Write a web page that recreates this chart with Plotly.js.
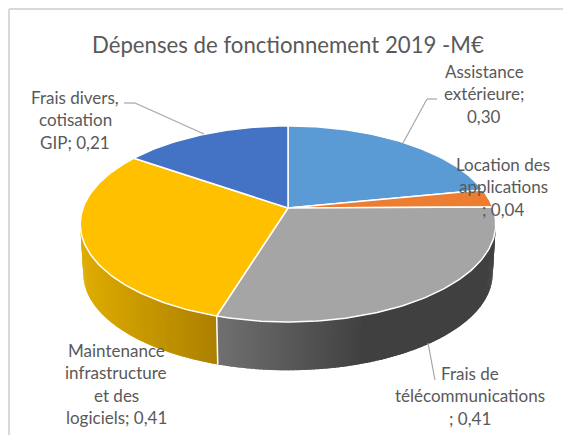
<!DOCTYPE html>
<html>
<head>
<meta charset="utf-8">
<script src="https://cdn.plot.ly/plotly-3.0.1.min.js"></script>
<style>html,body{margin:0;padding:0;background:#fff}#chart{width:563px;height:435px}</style>
</head>
<body>
<div id="chart"></div>
<script>
// Data
var categories = ["Assistance extérieure", "Location des applications", "Frais de télécommunications", "Maintenance infrastructure et des logiciels", "Frais divers, cotisation GIP"];
var values = [0.30, 0.04, 0.41, 0.41, 0.21];
var colors = ["#5B9BD5", "#ED7D31", "#A5A5A5", "#FFC000", "#4472C4"];
var labelLines = [
  ["Assistance", "extérieure;", "0,30"],
  ["Location des", "applications", "; 0,04"],
  ["Frais de", "télécommunications", "; 0,41"],
  ["Maintenance", "infrastructure", "et des", "logiciels; 0,41"],
  ["Frais divers,", "cotisation", "GIP; 0,21"]
];
var titleText = "Dépenses de fonctionnement 2019 -M€";

// Layout geometry
var CX = 288, CY = 208, R = 205, B = 95.4, PERSP = 0.163, DEPTH = 50, BOTTOM_SCALE = 0.985;
var labelPos = [[484, 71], [503, 164], [470, 373], [116, 350], [75, 97]];
var LINE_STEP = 22.6;
var leaders = [
  [[437, 99], [427, 99], [403, 143]],
  [[428, 343], [435, 380]],
  [[124, 103], [135, 103], [204, 134]]
];

function topPt(t) {
  var a = t * Math.PI / 180, u = Math.sin(a), v = Math.cos(a), d = 1 + PERSP * v;
  return [CX + R * u / d, CY - B * v / d];
}
function botPt(t) {
  var p = topPt(t);
  return [CX + BOTTOM_SCALE * (p[0] - CX), CY + DEPTH + BOTTOM_SCALE * (p[1] - CY)];
}
function mix(c1, c2, f) {
  return "rgb(" + c1.map(function (c, i) { return Math.round(c + (c2[i] - c) * f); }).join(",") + ")";
}
function wallColor(i, x) {
  if (i === 3) { // yellow wall
    return mix([222, 172, 0], [172, 128, 0], Math.max(0, Math.min(1, (x - 82) / (216 - 82))));
  }
  // grey wall
  return mix([112, 112, 112], [64, 64, 64], Math.max(0, Math.min(1, (x - 217) / (365 - 217))));
}

var total = values.reduce(function (a, b) { return a + b; }, 0);
var start = [], acc = 0;
values.forEach(function (v) { start.push(acc); acc += v / total * 360; });

var traces = [];
// Side walls (only the two front slices show); each strip overlaps the next to hide seams
[2, 3].forEach(function (i) {
  var t0 = start[i], t1 = t0 + values[i] / total * 360;
  for (var t = t0; t < t1; t += 1) {
    var e = Math.min(t + 1.8, t1);
    var a = topPt(t), b = topPt(e), c = botPt(e), d = botPt(t);
    var col = wallColor(i, (a[0] + topPt(Math.min(t + 1, t1))[0]) / 2);
    traces.push({
      type: "scatter", mode: "none", x: [a[0], b[0], c[0], d[0], a[0]], y: [a[1], b[1], c[1], d[1], a[1]],
      fill: "toself", fillcolor: col, hoverinfo: "skip"
    });
  }
});
// Separator between the two walls
var sep = start[3];
traces.push({
  type: "scatter", mode: "lines", x: [topPt(sep)[0], botPt(sep)[0]], y: [topPt(sep)[1], botPt(sep)[1]],
  line: { color: "#ffffff", width: 1.5 }, hoverinfo: "skip"
});
// Top face
values.forEach(function (v, i) {
  var t0 = start[i], t1 = t0 + v / total * 360, xs = [CX], ys = [CY];
  for (var t = t0; t < t1; t += 1) { var p = topPt(t); xs.push(p[0]); ys.push(p[1]); }
  var q = topPt(t1); xs.push(q[0]); ys.push(q[1]); xs.push(CX); ys.push(CY);
  traces.push({
    type: "scatter", mode: "lines", name: categories[i], x: xs, y: ys, fill: "toself",
    fillcolor: colors[i], line: { color: "#ffffff", width: 1.5 }, hoverinfo: "skip"
  });
});

var annotations = [{
  xref: "x", yref: "y", x: 288, y: 44, text: titleText, showarrow: false,
  font: { family: "Lato, Carlito, sans-serif", size: 22.2, color: "#595959" }
}];
labelLines.forEach(function (lines, i) {
  lines.forEach(function (s, j) {
    annotations.push({
      xref: "x", yref: "y", x: labelPos[i][0], y: labelPos[i][1] + j * LINE_STEP, text: s, showarrow: false,
      font: { family: "Lato, Carlito, sans-serif", size: 17, color: "#595959" }
    });
  });
});

var shapes = [
  { type: "line", xref: "x", yref: "y", x0: 9, x1: 9, y0: 9, y1: 435, line: { color: "#d9d9d9", width: 2 } },
  { type: "line", xref: "x", yref: "y", x0: 9, x1: 563, y0: 9, y1: 9, line: { color: "#d9d9d9", width: 2 } }
];
leaders.forEach(function (pts) {
  for (var k = 0; k < pts.length - 1; k++) {
    shapes.push({
      type: "line", xref: "x", yref: "y", x0: pts[k][0], y0: pts[k][1], x1: pts[k + 1][0], y1: pts[k + 1][1],
      line: { color: "#a6a6a6", width: 1.2 }
    });
  }
});

Plotly.newPlot("chart", traces, {
  width: 563, height: 435, margin: { l: 0, r: 0, t: 0, b: 0 },
  paper_bgcolor: "#ffffff", plot_bgcolor: "#ffffff", showlegend: false,
  xaxis: { range: [0, 563], visible: false, fixedrange: true },
  yaxis: { range: [435, 0], visible: false, fixedrange: true },
  annotations: annotations, shapes: shapes
}, { displayModeBar: false, staticPlot: true });
</script>
</body>
</html>
